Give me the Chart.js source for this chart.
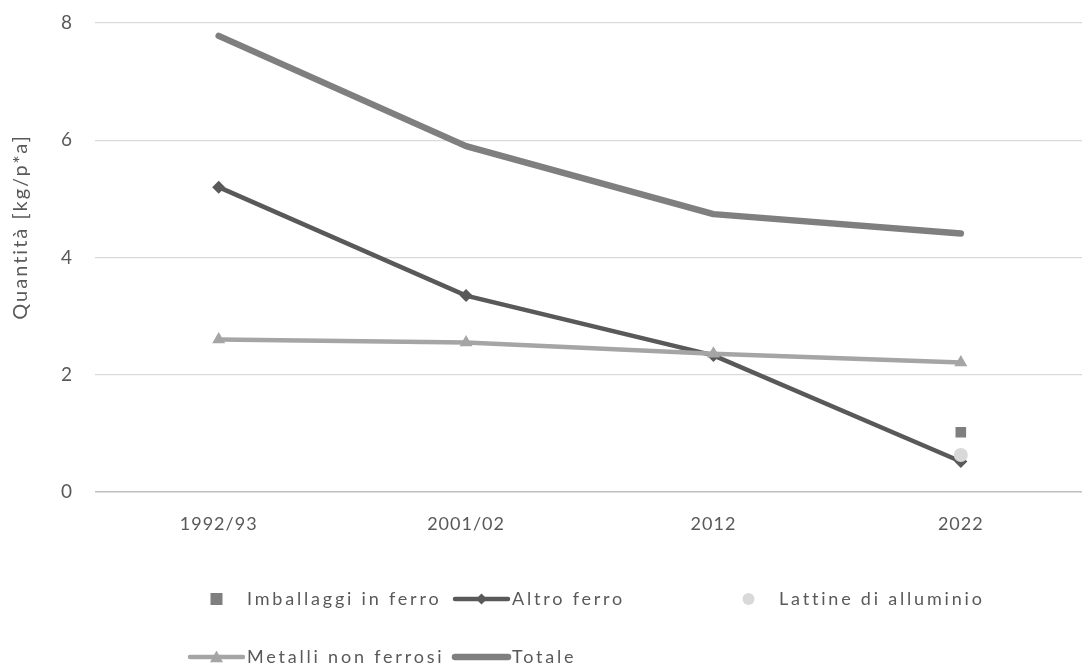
<!DOCTYPE html>
<html lang="it">
<head>
<meta charset="utf-8">
<title>Quantità di metalli raccolti</title>
<script src="https://cdn.jsdelivr.net/npm/chart.js@4.4.1/dist/chart.umd.min.js"></script>
<style>
  html, body { margin: 0; padding: 0; background: #ffffff; overflow: hidden; }
  #wrap { position: absolute; left: 0; top: 0; width: 1092px; height: 666px; }
</style>
</head>
<body>
<div id="wrap"><canvas id="chart"></canvas></div>
<script>
// Categorie (periodi di rilevamento)
const periodi = ['1992/93', '2001/02', '2012', '2022'];

// Quantità per abitante e anno [kg/p*a]
const imballaggiFerro   = [null, null, null, 1.02];
const altroFerro        = [5.20, 3.35, 2.33, 0.52];
const latteAlluminio    = [null, null, null, 0.63];
const metalliNonFerrosi = [2.60, 2.55, 2.36, 2.21];
const totale            = [7.78, 5.90, 4.74, 4.41];

// Etichette dell'asse y
const yTicks = [0, 2, 4, 6, 8];
const titoloY = 'Quantità [kg/p*a]';

const TXT = '#595959';
const FONT = 'Lato, "Open Sans", sans-serif';

// Spaziatura dei caratteri per tutte le scritte dei due assi
const spaziatura = {
  id: 'spaziatura',
  beforeLayout(chart) { chart.ctx.letterSpacing = '1px'; },
  beforeDraw(chart) { chart.ctx.letterSpacing = '1px'; }
};

// Titolo verticale dell'asse y
const titoloAsse = {
  id: 'titoloAsse',
  afterDraw(chart) {
    const ctx = chart.ctx;
    ctx.save();
    ctx.translate(21, 227);
    ctx.rotate(-Math.PI / 2);
    ctx.font = '20px ' + FONT;
    ctx.letterSpacing = '2px';
    ctx.fillStyle = TXT;
    ctx.textAlign = 'center';
    ctx.textBaseline = 'middle';
    ctx.fillText(titoloY, 0, 0);
    ctx.restore();
  }
};

// Legenda disegnata su tre colonne sotto al grafico
const legendaExcel = {
  id: 'legendaExcel',
  afterDraw(chart) {
    const ctx = chart.ctx;
    const cols = [188, 453, 720];
    const rows = [599, 657];
    const lineLen = 57;
    const gap = 2;
    ctx.save();
    ctx.font = '18px ' + FONT;
    ctx.textBaseline = 'middle';
    ctx.textAlign = 'left';
    ctx.letterSpacing = '2.8px';
    chart.data.datasets.forEach(ds => {
      const pos = ds.legendPos;
      const x0 = cols[pos[1]];
      const y = rows[pos[0]];
      const cx = x0 + lineLen / 2;
      if (ds.showLine !== false) {
        ctx.strokeStyle = ds.borderColor;
        ctx.lineWidth = ds.borderWidth;
        ctx.lineCap = 'round';
        ctx.beginPath();
        ctx.moveTo(x0 + 2, y);
        ctx.lineTo(x0 + lineLen - 2, y);
        ctx.stroke();
      }
      ctx.fillStyle = ds.pointBackgroundColor;
      const r = ds.legendRadius;
      ctx.beginPath();
      if (ds.pointStyle === 'rect') {
        ctx.rect(cx - r, y - r, 2 * r, 2 * r);
      } else if (ds.pointStyle === 'rectRot') {
        ctx.moveTo(cx, y - r); ctx.lineTo(cx + r, y); ctx.lineTo(cx, y + r); ctx.lineTo(cx - r, y);
        ctx.closePath();
      } else if (ds.pointStyle === 'triangle') {
        ctx.moveTo(cx, y - r); ctx.lineTo(cx + r, y + r * 0.8); ctx.lineTo(cx - r, y + r * 0.8);
        ctx.closePath();
      } else if (ds.pointStyle === 'circle') {
        ctx.arc(cx, y, r, 0, Math.PI * 2);
      }
      if (r > 0) ctx.fill();
      ctx.fillStyle = TXT;
      ctx.fillText(ds.label, x0 + lineLen + gap, y);
    });
    ctx.restore();
  }
};

new Chart(document.getElementById('chart'), {
  type: 'line',
  data: {
    labels: periodi,
    datasets: [
      {
        label: 'Imballaggi in ferro',
        data: imballaggiFerro,
        showLine: false,
        pointStyle: 'rect',
        pointRadius: 7.5,
        pointBackgroundColor: '#7f7f7f',
        pointBorderWidth: 0,
        borderColor: '#7f7f7f',
        legendPos: [0, 0],
        legendRadius: 6,
        order: 1
      },
      {
        label: 'Altro ferro',
        data: altroFerro,
        borderColor: '#595959',
        borderWidth: 4.5,
        pointStyle: 'rectRot',
        pointRadius: 6.5,
        pointBackgroundColor: '#595959',
        pointBorderWidth: 0,
        borderCapStyle: 'round',
        legendPos: [0, 1],
        legendRadius: 5.5,
        order: 4
      },
      {
        label: 'Lattine di alluminio',
        data: latteAlluminio,
        showLine: false,
        pointStyle: 'circle',
        pointRadius: 7,
        pointBackgroundColor: '#d9d9d9',
        pointBorderWidth: 0,
        borderColor: '#d9d9d9',
        legendPos: [0, 2],
        legendRadius: 6,
        order: 0
      },
      {
        label: 'Metalli non ferrosi',
        data: metalliNonFerrosi,
        borderColor: '#a5a5a5',
        borderWidth: 4.5,
        pointStyle: 'triangle',
        pointRadius: 7.5,
        pointBackgroundColor: '#a5a5a5',
        pointBorderWidth: 0,
        borderCapStyle: 'round',
        legendPos: [1, 0],
        legendRadius: 6.5,
        order: 3
      },
      {
        label: 'Totale',
        data: totale,
        borderColor: '#7f7f7f',
        borderWidth: 6.5,
        pointRadius: 0,
        pointBackgroundColor: '#7f7f7f',
        borderCapStyle: 'round',
        borderJoinStyle: 'round',
        legendPos: [1, 1],
        legendRadius: 0,
        order: 2
      }
    ]
  },
  options: {
    responsive: true,
    maintainAspectRatio: false,
    animation: false,
    layout: { padding: { top: 23, left: 0, right: 0, bottom: 0 } },
    plugins: {
      legend: { display: false },
      tooltip: { enabled: false }
    },
    scales: {
      x: {
        offset: true,
        grid: { display: false },
        border: { display: false },
        ticks: {
          color: TXT,
          font: { family: FONT, size: 18 },
          padding: 13,
          maxRotation: 0
        },
        afterFit(scale) {
          scale.height = 666 - 492;
          scale.paddingLeft = 0;
          scale.paddingRight = 0;
        }
      },
      y: {
        min: 0,
        max: 8,
        afterBuildTicks(scale) { scale.ticks = yTicks.map(v => ({ value: v })); },
        grid: {
          color: ctx => (ctx.tick && ctx.tick.value === 0 ? '#bfbfbf' : '#d9d9d9'),
          lineWidth: ctx => (ctx.tick && ctx.tick.value === 0 ? 1.6 : 1.3),
          drawTicks: false
        },
        border: { display: false },
        ticks: {
          color: TXT,
          font: { family: FONT, size: 19 },
          padding: 22
        },
        afterFit(scale) {
          scale.width = 95;
          scale.paddingTop = 0;
          scale.paddingBottom = 0;
        }
      }
    }
  },
  plugins: [spaziatura, titoloAsse, legendaExcel]
});
</script>
</body>
</html>
